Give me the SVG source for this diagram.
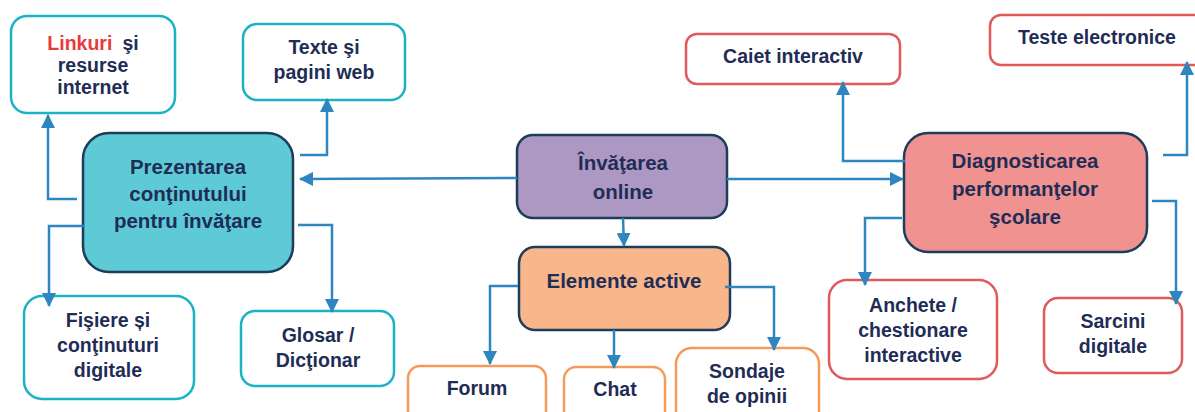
<svg xmlns="http://www.w3.org/2000/svg" width="1195" height="412" viewBox="0 0 1195 412">
<defs>
<marker id="ah" markerUnits="userSpaceOnUse" markerWidth="14" markerHeight="14" viewBox="0 0 14 14" refX="13" refY="7" orient="auto">
<path d="M0,0 L14,7 L0,14 z" fill="#2e86c1"/>
</marker>
<style>
text{font-family:"Liberation Sans",Arial,sans-serif;font-weight:bold;font-size:19.5px;fill:#1f2d56;text-anchor:middle}
.big{font-size:20.5px}
.teal{fill:#fff;stroke:#1ab3c6;stroke-width:2.5}
.red{fill:#fff;stroke:#e05a5a;stroke-width:2.5}
.org{fill:#fff;stroke:#f59a5a;stroke-width:2.5}
.main{stroke:#1d3d5a;stroke-width:2.5}
.c{fill:none;stroke:#2e86c1;stroke-width:2.5;marker-end:url(#ah)}
</style>
</defs>
<rect width="1195" height="412" fill="#fff"/>
<g id="linkuri"><rect class="teal" x="11" y="16" width="164" height="97" rx="16"/>
<text x="93" y="50"><tspan fill="#e83a3a">Linkuri</tspan><tspan dx="10">şi</tspan></text><text x="93" y="72">resurse</text><text x="93" y="94">internet</text></g>
<g id="texte"><rect class="teal" x="243" y="24" width="162" height="76" rx="14"/>
<text x="324" y="54">Texte şi</text><text x="324" y="79">pagini web</text></g>
<g id="prezentarea"><rect class="main" fill="#5ecad6" x="83" y="133" width="210" height="139" rx="26"/>
<text class="big" x="188" y="174">Prezentarea</text><text class="big" x="188" y="201">conţinutului</text><text class="big" x="188" y="228">pentru învăţare</text></g>
<g id="fisiere"><rect class="teal" x="24" y="296" width="170" height="103" rx="18"/>
<text x="108" y="327">Fişiere și</text><text x="108" y="352">conţinuturi</text><text x="108" y="377">digitale</text></g>
<g id="glosar"><rect class="teal" x="241" y="311" width="153" height="75" rx="14"/>
<text x="318" y="342">Glosar /</text><text x="318" y="367">Dicţionar</text></g>
<g id="invatarea"><rect class="main" fill="#ad98c3" x="517" y="135" width="210" height="83" rx="16"/>
<text class="big" x="623" y="170">Învăţarea</text><text class="big" x="623" y="199">online</text></g>
<g id="elemente"><rect class="main" fill="#f9b68a" x="519" y="247" width="211" height="83" rx="16"/>
<text class="big" x="624" y="288">Elemente active</text></g>
<g id="forum"><rect class="org" x="408" y="366" width="138" height="60" rx="12"/>
<text x="477" y="395">Forum</text></g>
<g id="chat"><rect class="org" x="564" y="367" width="101" height="60" rx="12"/>
<text x="615" y="396">Chat</text></g>
<g id="sondaje"><rect class="org" x="676" y="348" width="143" height="80" rx="16"/>
<text x="747" y="378">Sondaje</text><text x="747" y="403">de opinii</text></g>
<g id="caiet"><rect class="red" x="686" y="34" width="214" height="50" rx="11"/>
<text x="793" y="63">Caiet interactiv</text></g>
<g id="teste"><rect class="red" x="990" y="15" width="215" height="50" rx="11"/>
<text x="1097" y="44">Teste electronice</text></g>
<g id="diagnosticarea"><rect class="main" fill="#f09390" x="904" y="133" width="243" height="119" rx="24"/>
<text class="big" x="1025" y="168">Diagnosticarea</text><text class="big" x="1025" y="196">performanţelor</text><text class="big" x="1025" y="224">şcolare</text></g>
<g id="anchete"><rect class="red" x="829" y="280" width="168" height="99" rx="18"/>
<text x="913" y="312">Anchete /</text><text x="913" y="337">chestionare</text><text x="913" y="362">interactive</text></g>
<g id="sarcini"><rect class="red" x="1044" y="298" width="138" height="75" rx="14"/>
<text x="1113" y="328">Sarcini</text><text x="1113" y="353">digitale</text></g>
<g id="connectors">
<polyline class="c" points="77,199 48,199 48,115"/>
<polyline class="c" points="300,155 327,155 327,99"/>
<polyline class="c" points="85,226 49,226 49,306"/>
<polyline class="c" points="298,225 332,225 332,312"/>
<polyline class="c" points="517,178 300,179"/>
<polyline class="c" points="727,179 903,179"/>
<polyline class="c" points="623,218 624,246"/>
<polyline class="c" points="518,286 490,286 490,364"/>
<polyline class="c" points="614,330 614,368"/>
<polyline class="c" points="725,287 774,287 774,350"/>
<polyline class="c" points="905,161 843,161 843,82"/>
<polyline class="c" points="1163,155 1187,155 1187,62"/>
<polyline class="c" points="902,218 865,218 865,285"/>
<polyline class="c" points="1152,201 1176,201 1176,304"/>
</g>
</svg>
